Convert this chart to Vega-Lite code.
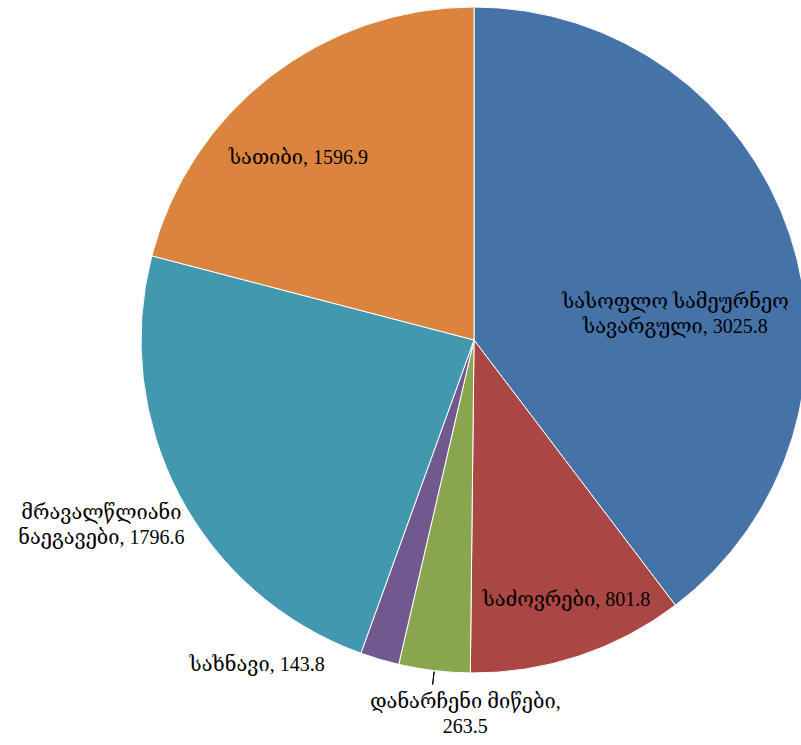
{
  "$schema": "https://vega.github.io/schema/vega-lite/v6.json",
  "width": 654,
  "height": 680,
  "autosize": {"type": "none"},
  "padding": {"left": 147, "top": 0, "right": 0, "bottom": 65},
  "background": "white",
  "config": {"view": {"stroke": null}},
  "data": {
    "values": [
      {"rank": 1, "name": "სასოფლო სამეურნეო სავარგული", "value": 3025.8, "label": "სასოფლო სამეურნეო\nსავარგული, 3025.8"},
      {"rank": 2, "name": "საძოვრები", "value": 801.8, "label": "საძოვრები, 801.8"},
      {"rank": 3, "name": "დანარჩენი მიწები", "value": 263.5, "label": "დანარჩენი მიწები,\n263.5"},
      {"rank": 4, "name": "სახნავი", "value": 143.8, "label": "სახნავი, 143.8"},
      {"rank": 5, "name": "მრავალწლიანი ნაეგავები", "value": 1796.6, "label": "მრავალწლიანი\nნაეგავები, 1796.6"},
      {"rank": 6, "name": "სათიბი", "value": 1596.9, "label": "სათიბი, 1596.9"}
    ]
  },
  "encoding": {
    "theta": {"field": "value", "type": "quantitative", "stack": true},
    "order": {"field": "rank", "type": "quantitative"}
  },
  "layer": [
    {
      "mark": {"type": "arc", "outerRadius": 333, "stroke": "white", "strokeWidth": 1},
      "encoding": {
        "color": {
          "field": "name",
          "type": "nominal",
          "scale": {
            "domain": ["სასოფლო სამეურნეო სავარგული", "საძოვრები", "დანარჩენი მიწები", "სახნავი", "მრავალწლიანი ნაეგავები", "სათიბი"],
            "range": ["#4572A7", "#AA4643", "#89A54E", "#71588F", "#4198AF", "#DB843D"]
          },
          "legend": null
        }
      }
    },
    {
      "mark": {"type": "arc", "innerRadius": 334, "outerRadius": 347, "padAngle": 0.6, "fill": "black", "stroke": "black", "strokeWidth": 1},
      "encoding": {
        "opacity": {"condition": {"test": "datum.rank === 3", "value": 1}, "value": 0}
      }
    },
    {
      "mark": {"type": "text", "radius": 203, "dx": 9, "dy": 27, "align": "center", "baseline": "middle", "font": "Liberation Serif, DejaVu Serif", "fontSize": 20, "lineBreak": "\n", "lineHeight": 25, "fill": "black"},
      "encoding": {"text": {"condition": {"test": "datum.rank === 1", "field": "label", "type": "nominal"}, "value": ""}}
    },
    {
      "mark": {"type": "text", "radius": 272, "dx": 7, "dy": 2, "align": "center", "baseline": "middle", "font": "Liberation Serif, DejaVu Serif", "fontSize": 20, "lineBreak": "\n", "lineHeight": 25, "fill": "black"},
      "encoding": {"text": {"condition": {"test": "datum.rank === 2", "field": "label", "type": "nominal"}, "value": ""}}
    },
    {
      "mark": {"type": "text", "radius": 375, "dx": 36, "dy": -10, "align": "center", "baseline": "middle", "font": "Liberation Serif, DejaVu Serif", "fontSize": 20, "lineBreak": "\n", "lineHeight": 25, "fill": "black"},
      "encoding": {"text": {"condition": {"test": "datum.rank === 3", "field": "label", "type": "nominal"}, "value": ""}}
    },
    {
      "mark": {"type": "text", "radius": 333, "dx": -55, "dy": 6, "align": "right", "baseline": "middle", "font": "Liberation Serif, DejaVu Serif", "fontSize": 20, "lineBreak": "\n", "lineHeight": 25, "fill": "black"},
      "encoding": {"text": {"condition": {"test": "datum.rank === 4", "field": "label", "type": "nominal"}, "value": ""}}
    },
    {
      "mark": {"type": "text", "radius": 420, "dx": -1, "dy": -23, "align": "center", "baseline": "middle", "font": "Liberation Serif, DejaVu Serif", "fontSize": 20, "lineBreak": "\n", "lineHeight": 25, "fill": "black"},
      "encoding": {"text": {"condition": {"test": "datum.rank === 5", "field": "label", "type": "nominal"}, "value": ""}}
    },
    {
      "mark": {"type": "text", "radius": 230, "dx": -35, "dy": 0, "align": "center", "baseline": "middle", "font": "Liberation Serif, DejaVu Serif", "fontSize": 20, "lineBreak": "\n", "lineHeight": 25, "fill": "black"},
      "encoding": {"text": {"condition": {"test": "datum.rank === 6", "field": "label", "type": "nominal"}, "value": ""}}
    }
  ]
}
